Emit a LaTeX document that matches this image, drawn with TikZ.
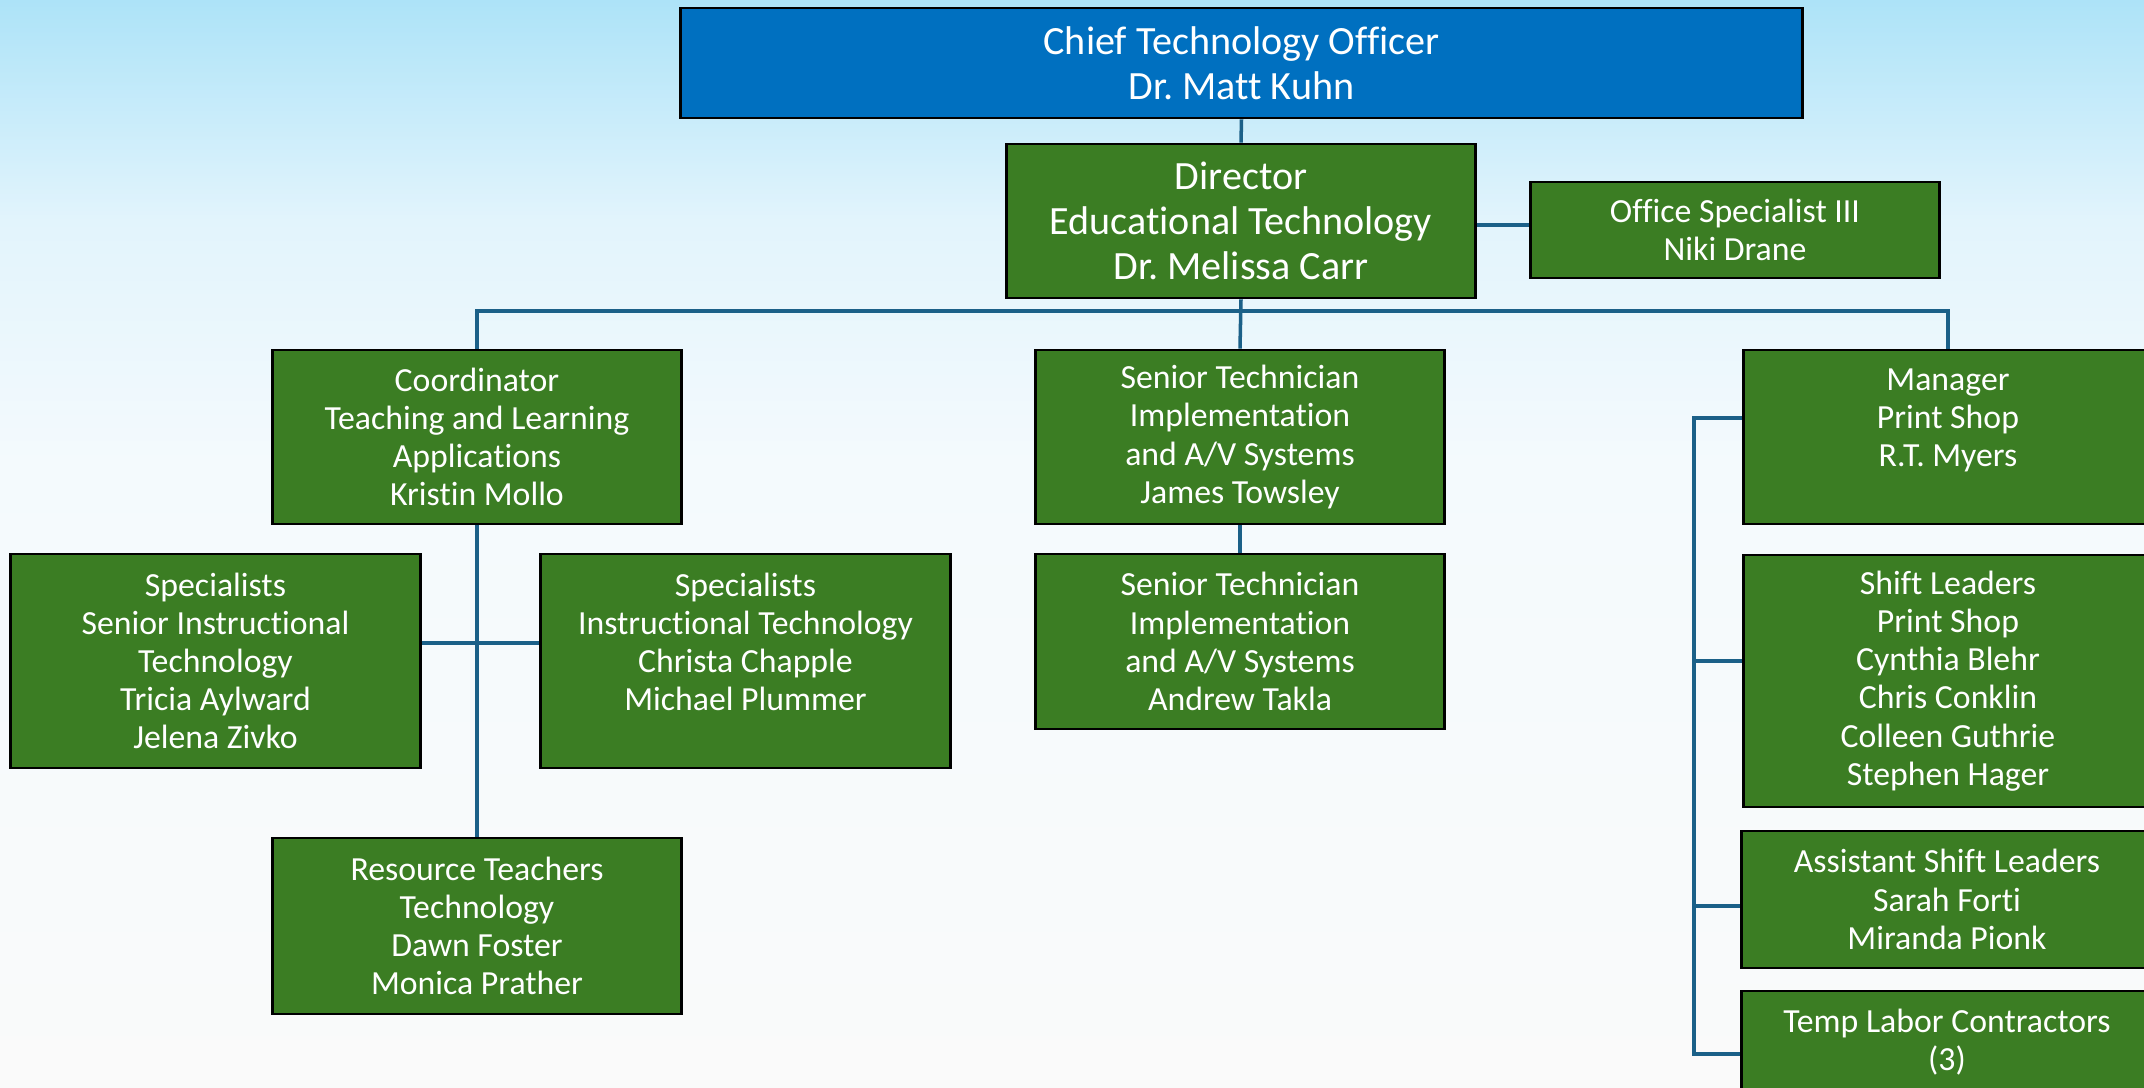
\documentclass[tikz,border=0pt]{standalone}
\usepackage{fontspec}
\setmainfont{Carlito}[Ligatures=NoCommon]
\usetikzlibrary{calc}
\frenchspacing
\definecolor{bgtop}{HTML}{ADE3F8}
\definecolor{bgmid}{HTML}{E2F4FC}
\definecolor{bgmidb}{HTML}{F4FAFD}
\definecolor{bgbot}{HTML}{FAFAFA}
\definecolor{orggreen}{HTML}{3B7D23}
\definecolor{orgblue}{HTML}{0070C0}
\definecolor{orgline}{HTML}{1B6088}

\begin{document}
\begin{tikzpicture}[x=0.01cm,y=-0.01cm,
    box/.style={draw=black,line width=0.8pt,fill=orggreen,text=white,align=center,
      inner sep=0pt,minimum width=4.08cm,font=\fontsize{9.6}{10.85}\selectfont},
    bigbox/.style={box,font=\fontsize{11.4}{12.8}\selectfont},
    link/.style={draw=orgline,line width=1pt}]
    \useasboundingbox (0,0) rectangle (2144,1088);
    \clip (0,0) rectangle (2144,1088);
    \shade[top color=bgtop,bottom color=bgmid] (0,0) rectangle (2144,221);
    \shade[top color=bgmid,bottom color=bgmidb] (0,220) rectangle (2144,461);
    \shade[top color=bgmidb,bottom color=bgbot] (0,460) rectangle (2144,1088);

    \node[bigbox,fill=orgblue,minimum width=11.21cm,minimum height=1.10cm] (cto) at (1241.5,63)
      {Chief Technology Officer\\Dr. Matt Kuhn};
    \node[bigbox,minimum width=4.68cm,minimum height=1.54cm] (dir) at (1241,221)
      {Director\\Educational Technology\\Dr. Melissa Carr};
    \node[box,minimum height=0.96cm] (ofs) at (1735,230) {Office Specialist III\\Niki Drane};

    \node[box,minimum height=1.74cm] (coord) at (477,437)
      {Coordinator\\Teaching and Learning\\Applications\\Kristin Mollo};
    \node[box,minimum height=1.74cm] (tech1) at (1240,437)
      {Senior Technician\\Implementation\\and A/V Systems\\James Towsley};
    \node[box,minimum height=1.74cm] (mgr) at (1948,437)
      {Manager\\Print Shop\\R.T. Myers\\\mbox{}};

    \node[box,minimum width=4.09cm,minimum height=2.14cm] (spsen) at (215.5,661)
      {Specialists\\Senior Instructional\\Technology\\Tricia Aylward\\Jelena Zivko};
    \node[box,minimum width=4.09cm,minimum height=2.14cm] (spit) at (745.5,661)
      {Specialists\\Instructional Technology\\Christa Chapple\\Michael Plummer\\\mbox{}};
    \node[box,minimum height=1.75cm] (tech2) at (1240,641.5)
      {Senior Technician\\Implementation\\and A/V Systems\\Andrew Takla};
    \node[box,minimum height=1.76cm] (res) at (477,926)
      {Resource Teachers\\Technology\\Dawn Foster\\Monica Prather};

    \node[box,minimum height=2.52cm] (shift) at (1948,681)
      {Shift Leaders\\Print Shop\\Cynthia Blehr\\Chris Conklin\\Colleen Guthrie\\Stephen Hager};
    \node[box,minimum width=4.10cm,minimum height=1.37cm] (asst) at (1947,899.5)
      {Assistant Shift Leaders\\Sarah Forti\\Miranda Pionk};
    \node[box,minimum width=4.10cm,minimum height=1.74cm] (temp) at (1947,1078)
      {Temp Labor Contractors\\(3)\\\mbox{}\\\mbox{}};

    \coordinate (bus) at (0,311);
    \coordinate (side) at (0,225);
    \coordinate (xbar) at (477,643);
    \coordinate (bt) at (1694,418);
    \coordinate (bs) at (1694,661);
    \coordinate (ba) at (1694,906);
    \coordinate (bb) at (1694,1054);

    \draw[link] (cto.south) -- (dir.north);
    \draw[link] (dir.east |- side) -- (ofs.west |- side);
    \draw[link] (dir.south) -- (tech1.north);
    \draw[link] (coord.north) -- (coord.north |- bus) -| (mgr.north);
    \draw[link] (tech1.south) -- (tech2.north);
    \draw[link] (coord.south) -- (res.north);
    \draw[link] (spsen.east |- xbar) -- (spit.west |- xbar);
    \draw[link] (mgr.west |- bt) -- (bt) -- (bb) -- (temp.west |- bb);
    \draw[link] (bs) -- (shift.west |- bs);
    \draw[link] (ba) -- (asst.west |- ba);
  \end{tikzpicture}
\end{document}
